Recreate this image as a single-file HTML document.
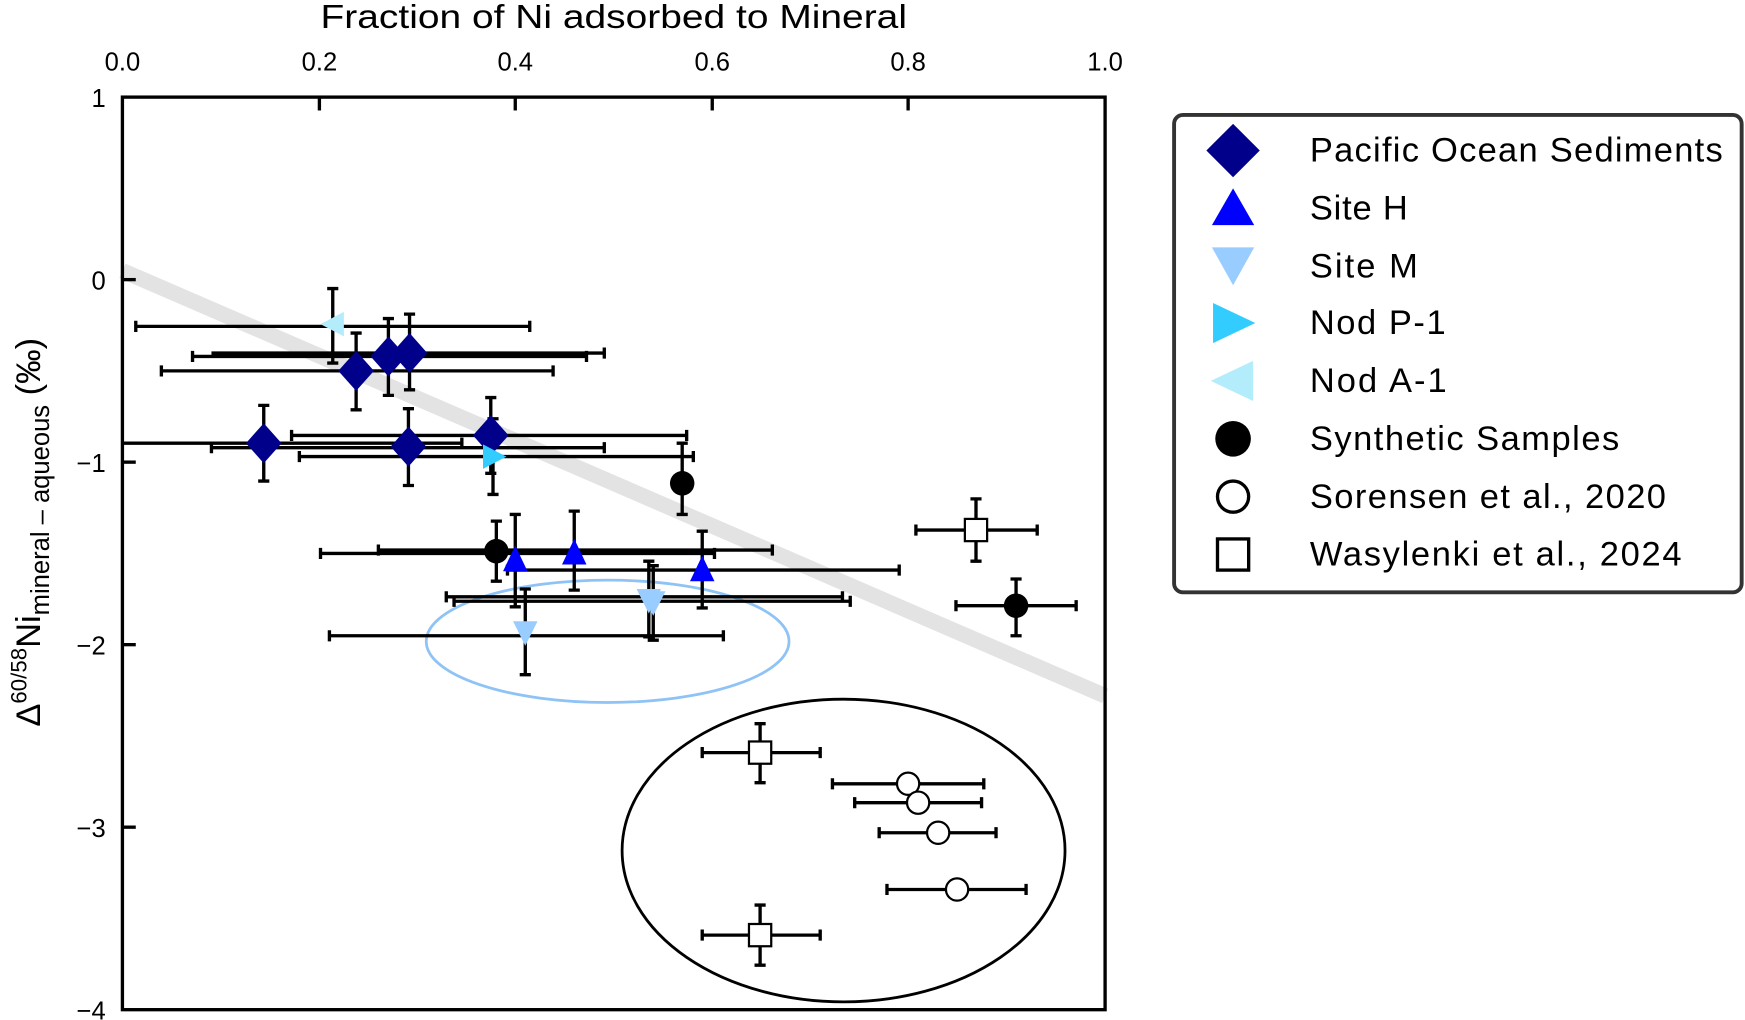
<!DOCTYPE html>
<html><head><meta charset="utf-8"><style>html,body{margin:0;padding:0;background:#fff}svg{display:block}</style></head>
<body>
<svg width="1745" height="1020" viewBox="0 0 1568 916" xmlns="http://www.w3.org/2000/svg" font-family="Liberation Sans, sans-serif">
<rect width="1568" height="916" fill="#fff"/>
<line x1="110" y1="243" x2="993" y2="625" stroke="#e3e3e3" stroke-width="14"/>
<text x="288" y="25" font-size="30" textLength="527" lengthAdjust="spacingAndGlyphs">Fraction of Ni adsorbed to Mineral</text>
<g font-size="23" text-anchor="middle">
<text x="110" y="63">0.0</text><text x="287" y="63">0.2</text><text x="463" y="63">0.4</text><text x="640" y="63">0.6</text><text x="816" y="63">0.8</text><text x="993" y="63">1.0</text>
</g>
<g font-size="23" text-anchor="end">
<text x="95" y="96">1</text><text x="95" y="260">0</text><text x="95" y="424">−1</text><text x="95" y="588">−2</text><text x="95" y="752">−3</text><text x="95" y="916">−4</text>
</g>
<text transform="translate(36,478) rotate(-90)" font-size="31" text-anchor="middle">Δ<tspan font-size="20" dy="-12">60/58</tspan><tspan dy="12">Ni</tspan><tspan font-size="23" dy="8">mineral – aqueous</tspan><tspan dy="-8"> (‰)</tspan></text>
<g stroke="#000" stroke-width="3">
<rect x="110" y="87" width="883" height="820" fill="none"/>
<line x1="287" y1="87" x2="287" y2="99"/><line x1="463" y1="87" x2="463" y2="99"/><line x1="640" y1="87" x2="640" y2="99"/><line x1="816" y1="87" x2="816" y2="99"/>
<line x1="110" y1="251" x2="122" y2="251"/><line x1="110" y1="415" x2="122" y2="415"/><line x1="110" y1="579" x2="122" y2="579"/><line x1="110" y1="743" x2="122" y2="743"/>
</g>
<ellipse cx="546" cy="576" rx="163" ry="55" fill="none" stroke="#8fc3f5" stroke-width="2.5"/>
<ellipse cx="758" cy="764" rx="199" ry="136" fill="none" stroke="#000" stroke-width="2.5"/>
<g stroke="#000" stroke-width="3">
<path d="M110 398H415M237 364V432 M190 402H543M367 367V436 M145 333H497M320 299V368 M173 320H527M349 286V355 M190 317H543M368 282V350 M262 391H617M441 357V425 M122 293H476M299 259V326 M269 410H623M443 376V444 M603 434H623M613 398V462 M288 497H642M446 468V522 M340 494H694 M859 544H967M913 520V571 M456 512H808M463 462V545 M516 459V530 M631 477V546 M296 571H650M472 529V606 M401 536H757M583 504V572 M408 540H764M587 508V575 M823 476H932M877 448V504 M631 676H737M683 650V703 M631 840H737M683 813V867 M748 704H884 M768 721H882 M790 748H895 M797 799H922"/>
</g>
<g stroke="#000" stroke-width="3" fill="none">
<path d="M415 393v10M190 397v10M543 397v10M145 328v10M497 328v10M173 315v10M527 315v10M543 312v10M262 386v10M617 386v10M122 288v10M476 288v10M269 405v10M623 405v10M288 492v10M642 492v10M340 489v10M694 489v10M859 539v10M967 539v10M456 507v10M808 507v10M296 566v10M650 566v10M401 531v10M757 531v10M408 535v10M764 535v10M823 471v10M932 471v10M631 671v10M737 671v10M631 835v10M737 835v10M748 699v10M884 699v10M768 716v10M882 716v10M790 743v10M895 743v10M797 794v10M922 794v10"/>
<path d="M232 364h10M232 432h10M362 367h10M362 436h10M315 299h10M315 368h10M344 286h10M344 355h10M363 282h10M363 350h10M436 357h10M436 425h10M294 259h10M294 326h10M438 376h10M438 444h10M608 398h10M608 462h10M441 468h10M441 522h10M908 520h10M908 571h10M458 462h10M458 545h10M511 459h10M511 530h10M626 477h10M626 546h10M467 529h10M467 606h10M578 504h10M578 572h10M582 508h10M582 575h10M872 448h10M872 504h10M678 650h10M678 703h10M678 813h10M678 867h10"/>
</g>
<g>
<path d="M237 380L253 398L237 416L221 398Z M367 383L383 401L367 419L351 401Z M320 315L336 333L320 351L304 333Z M349 302L365 320L349 338L333 320Z M368 299L384 317L368 335L352 317Z M441 373L457 391L441 409L425 391Z" fill="#00008b"/>
<path d="M288 291L309 280L309 302Z" fill="#b3ecfb"/>
<path d="M455 410L434 399L434 421Z" fill="#33ccff"/>
<circle cx="613" cy="434" r="11" fill="#000"/><circle cx="446" cy="495" r="11" fill="#000"/><circle cx="913" cy="544" r="11" fill="#000"/>
<path d="M463 490L474 513L452 513Z M516 484L527 507L505 507Z M631 499L642 522L620 522Z" fill="#0000ff"/>
<path d="M472 580L483 558L461 558Z M583 551L594 529L572 529Z M587 553L598 531L576 531Z" fill="#99ccff"/>
<g fill="#fff" stroke="#000" stroke-width="2"><rect x="867" y="466" width="20" height="20"/><rect x="673" y="666" width="20" height="20"/><rect x="673" y="830" width="20" height="20"/>
<circle cx="816" cy="704" r="10"/><circle cx="825" cy="721" r="10"/><circle cx="843" cy="748" r="10"/><circle cx="860" cy="799" r="10"/></g>
</g>
<rect x="1055" y="103" width="510" height="429" rx="8" fill="#fff" stroke="#333" stroke-width="3.5"/>
<path d="M1108 111L1132 135L1108 159L1084 135Z" fill="#00008b"/>
<path d="M1108 169L1127 202L1089 202Z" fill="#0000ff"/>
<path d="M1108 256L1127 222L1089 222Z" fill="#99ccff"/>
<path d="M1128 290L1090 272L1090 308Z" fill="#33ccff"/>
<path d="M1088 342L1126 324L1126 360Z" fill="#b3ecfb"/>
<circle cx="1108" cy="394" r="16" fill="#000"/>
<circle cx="1108" cy="446" r="14" fill="#fff" stroke="#000" stroke-width="3"/>
<rect x="1094" y="484" width="28" height="28" fill="#fff" stroke="#000" stroke-width="3"/>
<g font-size="31" lengthAdjust="spacingAndGlyphs">
<text x="1177" y="145" textLength="371">Pacific Ocean Sediments</text><text x="1177" y="197" textLength="88">Site H</text><text x="1177" y="249" textLength="97">Site M</text><text x="1177" y="300" textLength="122">Nod P-1</text><text x="1177" y="352" textLength="123">Nod A-1</text><text x="1177" y="404" textLength="278">Synthetic Samples</text><text x="1177" y="456" textLength="320">Sorensen et al., 2020</text><text x="1177" y="508" textLength="334">Wasylenki et al., 2024</text>
</g>
</svg>
</body></html>
